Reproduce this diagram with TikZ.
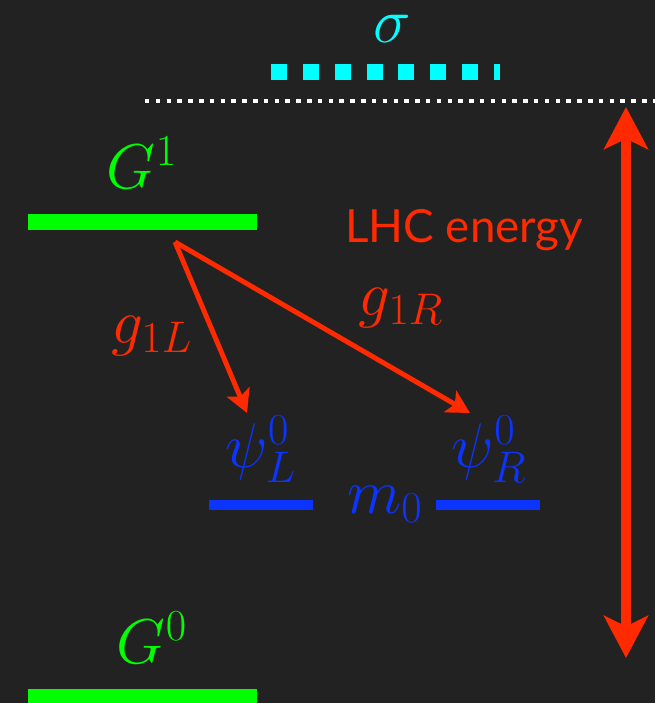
\RequirePackage{fix-cm}
\documentclass[tikz,border=0pt]{standalone}
\usepackage{fontspec}
\newfontfamily\lhcfont{Lato}
\usepackage{tikz}
\usetikzlibrary{arrows.meta}
\definecolor{bgdark}{HTML}{222222}
\definecolor{glgreen}{HTML}{00FF00}
\definecolor{sigcyan}{HTML}{00FFFF}
\definecolor{fermblue}{HTML}{0C34FF}
\definecolor{lhcred}{HTML}{FF2A00}

\begin{document}
\begin{tikzpicture}[x=0.02cm,y=-0.02cm,
  mathlbl/.style={font=\fontsize{36}{40}\selectfont,inner sep=0pt,anchor=base},
  gbar/.style={glgreen,line width=9.1pt},
  fbar/.style={fermblue,line width=6.2pt},
  coupl/.style={lhcred,line width=2.8pt,-{Stealth[length=13pt,width=14pt,inset=3pt]}}]
  \fill[bgdark] (0,0) rectangle (655,703);
  \useasboundingbox (0,0) rectangle (655,703);
  % sigma scale and cut-off
  \node[mathlbl,sigcyan] (sig) at (392,42) {$\sigma$};
  \draw[sigcyan,line width=9.07pt,dash pattern=on 9.07pt off 9.07pt] (271,72) -- (500,72);
  \draw[white,line width=2.55pt,dash pattern=on 2.55pt off 3.6pt] (145,101) -- (655,101);
  % gauge levels
  \node[mathlbl,glgreen] (g1) at (142,188) {$G^1$};
  \draw[gbar] (28,222) -- (257,222);
  \node[mathlbl,glgreen] (g0) at (152,663) {$G^0$};
  \draw[gbar] (28,697) -- (257,697);
  % zero modes
  \node[mathlbl,fermblue] (psiL) at (261,467) {$\psi_L^0$};
  \draw[fbar] (209,505) -- (313,505);
  \node[mathlbl,fermblue] (psiR) at (489,467) {$\psi_R^0$};
  \draw[fbar] (436,505) -- (540,505);
  \node[mathlbl,fermblue] (mzero) at (385,513) {$m_0$};
  % couplings
  \coordinate (vtx) at (175,242);
  \coordinate (tipL) at (247,413);
  \coordinate (tipR) at (470,413);
  \draw[coupl] (vtx) -- (tipL);
  \draw[coupl] (vtx) -- (tipR);
  \node[mathlbl,lhcred] (gL) at (152,343) {$g_{1L}$};
  \node[mathlbl,lhcred] (gR) at (401,315) {$g_{1R}$};
  % LHC reach
  \node[lhcred,font=\lhcfont\fontsize{26}{30}\selectfont,anchor=base west,inner sep=0pt] (lhc) at (345,242) {LHC energy};
  \coordinate (etop) at (626,107);
  \coordinate (ebot) at (626,658);
  \draw[lhcred,line width=6.2pt,{Stealth[length=24pt,width=25pt,inset=6pt]}-{Stealth[length=24pt,width=25pt,inset=6pt]}] (etop) -- (ebot);
\end{tikzpicture}
\end{document}
